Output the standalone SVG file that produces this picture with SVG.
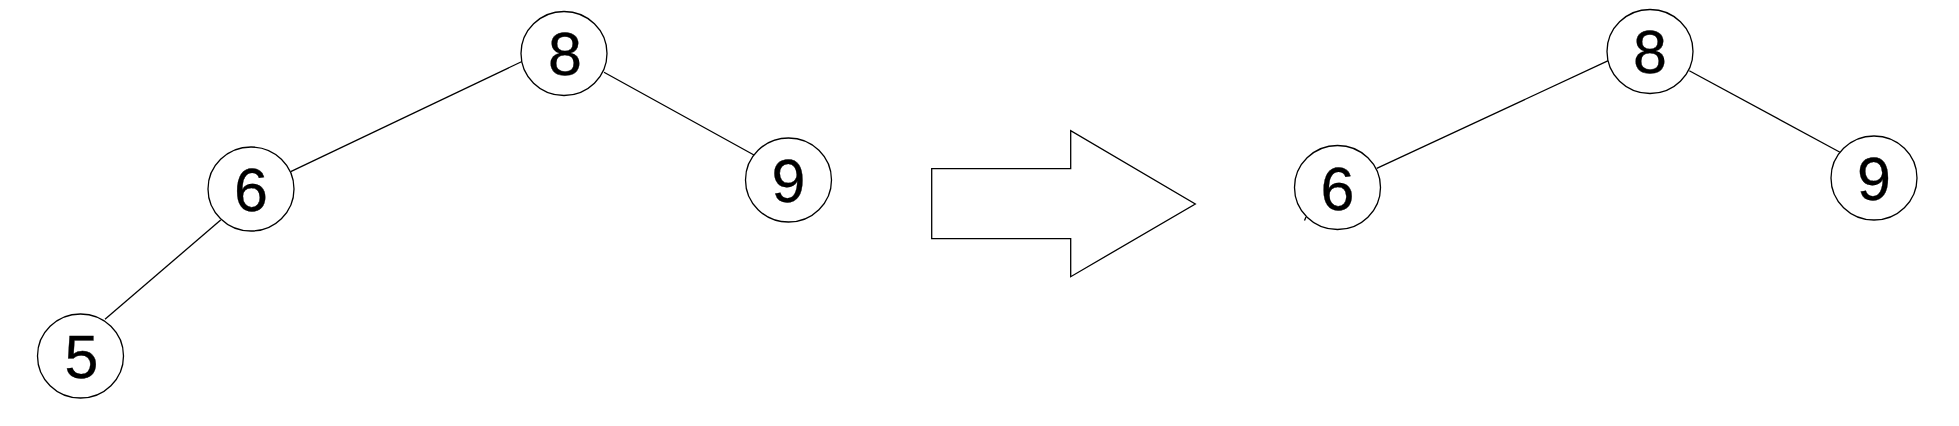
<svg xmlns="http://www.w3.org/2000/svg" width="1959" height="426" viewBox="0 0 1959 426">
<style>
.node ellipse{fill:#fff;stroke:#000;stroke-width:1.3}
.node text{font-family:"Liberation Sans",Arial,sans-serif;font-size:61px;fill:#000;stroke:#000;stroke-width:0.3;text-anchor:middle}
.edge{stroke:#000;stroke-width:1.3;fill:none}
.shape{fill:#fff;stroke:#000;stroke-width:1.3;stroke-linejoin:miter}
</style>
<rect width="1959" height="426" fill="#fff"/>
<g id="connectors">
<line class="edge" x1="523" y1="61" x2="290.7" y2="171.7"/>
<line class="edge" x1="220.7" y1="220" x2="105" y2="319.3"/>
<line class="edge" x1="604" y1="72.3" x2="754" y2="155"/>
<line class="edge" x1="1608.3" y1="60.7" x2="1376.7" y2="168.3"/>
<line class="edge" x1="1689.3" y1="70.7" x2="1840" y2="152.3"/>
<line class="edge" x1="1306" y1="217" x2="1304.5" y2="220.5"/>
</g>
<g id="L8" class="node"><ellipse cx="564" cy="53.5" rx="43" ry="42"/><text x="565" y="75">8</text></g>
<g id="L6" class="node"><ellipse cx="251" cy="189" rx="43" ry="42"/><text x="251" y="211">6</text></g>
<g id="L5" class="node"><ellipse cx="80.5" cy="356" rx="43" ry="42"/><text x="81.5" y="378">5</text></g>
<g id="L9" class="node"><ellipse cx="788.5" cy="180" rx="43" ry="42"/><text x="788.5" y="202">9</text></g>
<g id="arrow"><polygon class="shape" points="931.7,168.7 1070.7,168.7 1070.7,130.7 1195.3,204 1070.7,276.7 1070.7,238.7 931.7,238.7"/></g>
<g id="R8" class="node"><ellipse cx="1650" cy="51.5" rx="43" ry="42"/><text x="1650" y="73">8</text></g>
<g id="R6" class="node"><ellipse cx="1337.5" cy="187.5" rx="43" ry="42"/><text x="1337.5" y="209.5">6</text></g>
<g id="R9" class="node"><ellipse cx="1874" cy="178" rx="43" ry="42"/><text x="1874" y="200">9</text></g>
</svg>
